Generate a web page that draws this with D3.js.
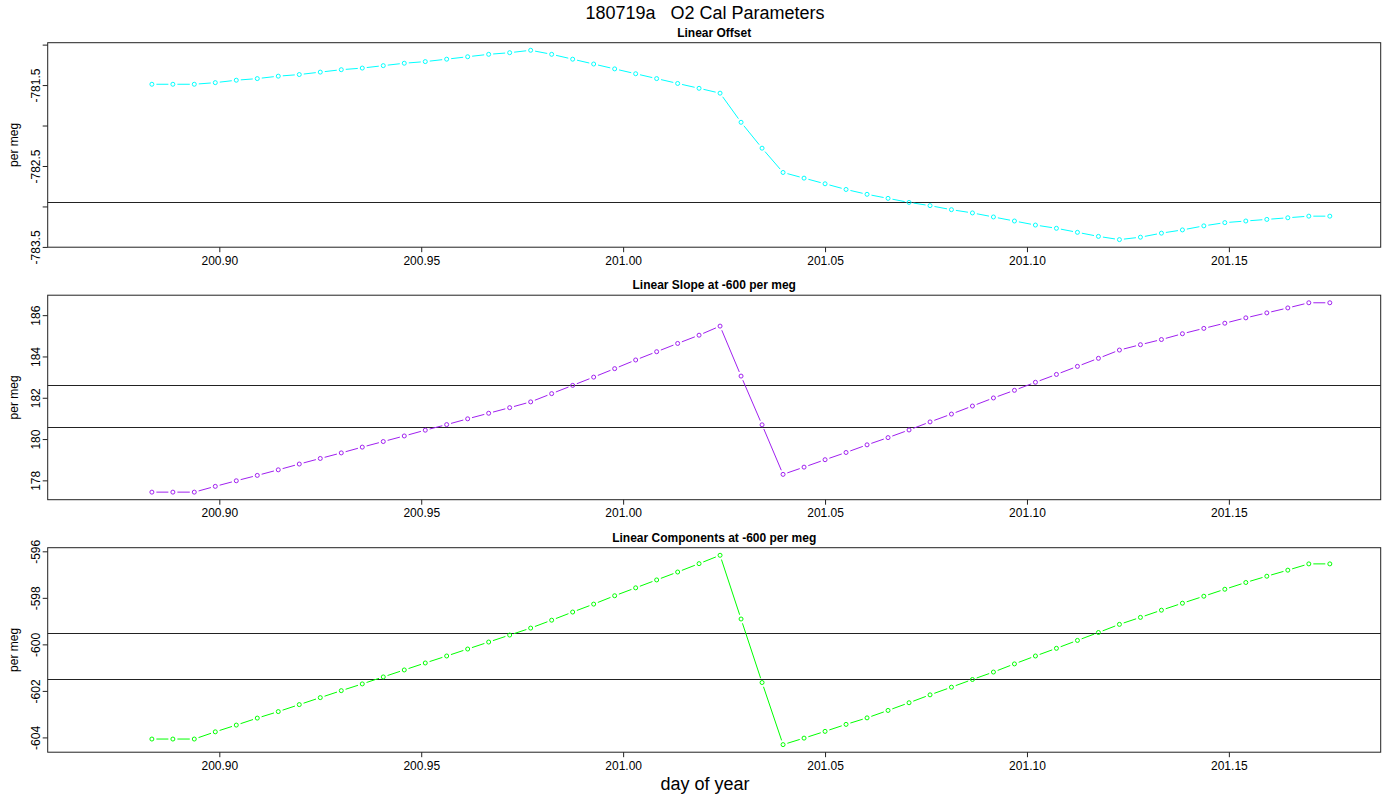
<!DOCTYPE html>
<html>
<head>
<meta charset="utf-8">
<script src="https://cdn.jsdelivr.net/npm/d3@7"></script>
<style>
  body { margin: 0; background: #fff; }
  svg { display: block; font-family: "Liberation Sans", Arial, Helvetica, sans-serif; }
</style>
</head>
<body>
<div id="chart"></div>
<script>
// sample times (day of year), every 7.5 minutes
const dayOfYear = [
  200.8833, 200.8885, 200.8938, 200.8990, 200.9042, 200.9094, 200.9146, 200.9198,
  200.9250, 200.9302, 200.9354, 200.9406, 200.9458, 200.9510, 200.9563, 200.9615,
  200.9667, 200.9719, 200.9771, 200.9823, 200.9875, 200.9927, 200.9979, 201.0031,
  201.0083, 201.0135, 201.0188, 201.0240, 201.0292, 201.0344, 201.0396, 201.0448,
  201.0500, 201.0552, 201.0604, 201.0656, 201.0708, 201.0760, 201.0813, 201.0865,
  201.0917, 201.0969, 201.1021, 201.1073, 201.1125, 201.1177, 201.1229, 201.1281,
  201.1333, 201.1385, 201.1438, 201.1490, 201.1542, 201.1594, 201.1646, 201.1698,
  201.1750
];

const linearOffset = [
  -781.49, -781.49, -781.49, -781.47, -781.44, -781.42, -781.39, -781.37,
  -781.34, -781.31, -781.29, -781.26, -781.23, -781.21, -781.18, -781.15,
  -781.12, -781.10, -781.07, -781.12, -781.18, -781.24, -781.30, -781.36,
  -781.42, -781.48, -781.54, -781.60, -781.96, -782.28, -782.58, -782.65,
  -782.72, -782.79, -782.85, -782.90, -782.95, -782.99, -783.04, -783.08,
  -783.13, -783.18, -783.23, -783.27, -783.32, -783.37, -783.41, -783.38,
  -783.33, -783.29, -783.24, -783.20, -783.18, -783.16, -783.14, -783.12,
  -783.12
];

const linearSlope = [
  177.43, 177.43, 177.43, 177.71, 177.98, 178.24, 178.51, 178.79,
  179.06, 179.33, 179.61, 179.88, 180.15, 180.43, 180.70, 180.98,
  181.25, 181.52, 181.80, 182.20, 182.60, 183.00, 183.41, 183.83,
  184.23, 184.63, 185.03, 185.47, 183.05, 180.69, 178.29, 178.64,
  179.00, 179.35, 179.72, 180.07, 180.44, 180.83, 181.21, 181.60,
  181.99, 182.36, 182.75, 183.13, 183.52, 183.91, 184.31, 184.57,
  184.82, 185.10, 185.36, 185.61, 185.87, 186.11, 186.35, 186.60,
  186.60
];

const linearComponents = [
  -604.07, -604.07, -604.07, -603.76, -603.47, -603.17, -602.89, -602.59,
  -602.29, -601.99, -601.70, -601.40, -601.10, -600.80, -600.50, -600.20,
  -599.90, -599.60, -599.30, -598.96, -598.61, -598.27, -597.91, -597.57,
  -597.23, -596.89, -596.53, -596.17, -598.91, -601.64, -604.31, -604.03,
  -603.74, -603.44, -603.16, -602.84, -602.51, -602.17, -601.84, -601.51,
  -601.19, -600.84, -600.50, -600.17, -599.83, -599.49, -599.14, -598.84,
  -598.53, -598.23, -597.93, -597.63, -597.34, -597.07, -596.81, -596.54,
  -596.54
];

// reference lines
const offsetRefs = [-782.95];
const slopeRefs = [182.6, 180.6];
const componentRefs = [-599.5, -601.5];

// axis ticks
const xTicks = [200.90, 200.95, 201.00, 201.05, 201.10, 201.15];
const xDomain = [200.8575, 201.1876];
const offsetTicks = [-781, -781.5, -782, -782.5, -783, -783.5];
const offsetTickLabels = ["", "-781.5", "", "-782.5", "", "-783.5"];
const slopeTicks = [178, 180, 182, 184, 186];
const componentTicks = [-604, -602, -600, -598, -596];

const panelTitles = ["Linear Offset", "Linear Slope at -600 per meg", "Linear Components at -600 per meg"];
const mainTitle = "180719a   O2 Cal Parameters";

const W = 1400, H = 800;
const left = 47.7, right = 1380.7;
const panelTop0 = 42.7, panelStep = 252.5, panelH = 204.5;

const panels = [
  { title: panelTitles[0], values: linearOffset, color: "#00FFFF", refs: offsetRefs,
    ticks: offsetTicks, labels: offsetTickLabels },
  { title: panelTitles[1], values: linearSlope, color: "#A020F0", refs: slopeRefs,
    ticks: slopeTicks, labels: slopeTicks.map(String) },
  { title: panelTitles[2], values: linearComponents, color: "#00FF00", refs: componentRefs,
    ticks: componentTicks, labels: componentTicks.map(String) }
];

const svg = d3.select("#chart").append("svg")
  .attr("width", W)
  .attr("height", H);

svg.append("text")
  .attr("x", 705).attr("y", 19)
  .attr("text-anchor", "middle")
  .attr("font-size", 18)
  .attr("fill", "#000")
  .style("white-space", "pre")
  .text(mainTitle);

const x = d3.scaleLinear().domain(xDomain).range([left, right]);

panels.forEach((p, k) => {
  const top = panelTop0 + k * panelStep;
  const bottom = top + panelH;

  // R style 4% range extension
  const [lo, hi] = d3.extent(p.values);
  const pad = (hi - lo) * 0.04;
  const y = d3.scaleLinear().domain([lo - pad, hi + pad]).range([bottom, top]);

  const g = svg.append("g");

  g.append("text")
    .attr("x", (left + right) / 2).attr("y", top - 6)
    .attr("text-anchor", "middle")
    .attr("font-size", 12)
    .attr("font-weight", "bold")
    .text(p.title);

  // reference lines
  g.selectAll(".ref")
    .data(p.refs)
    .join("line")
    .attr("x1", left).attr("x2", right)
    .attr("y1", d => Math.round(y(d)) + 0.5)
    .attr("y2", d => Math.round(y(d)) + 0.5)
    .attr("stroke", "#222")
    .attr("stroke-width", 1);

  // x axis
  const xAxis = g.append("g")
    .attr("transform", `translate(0,${bottom})`)
    .call(d3.axisBottom(x).tickValues(xTicks).tickFormat(d3.format(".2f")).tickSizeOuter(0).tickSize(5).tickPadding(4));
  xAxis.select(".domain").remove();
  xAxis.selectAll("line").attr("stroke", "#222");
  xAxis.selectAll("text")
    .attr("font-size", 12)
    .attr("font-family", "Liberation Sans, Arial, sans-serif")
    .attr("fill", "#000");

  // y axis
  const yAxis = g.append("g")
    .attr("transform", `translate(${left},0)`)
    .call(d3.axisLeft(y).tickValues(p.ticks).tickFormat((d, i) => p.labels[i]).tickSizeOuter(0).tickSize(5));
  yAxis.select(".domain").remove();
  yAxis.selectAll("line").attr("stroke", "#222");
  yAxis.selectAll("text")
    .attr("font-size", 12)
    .attr("font-family", "Liberation Sans, Arial, sans-serif")
    .attr("fill", "#000")
    .attr("text-anchor", "middle")
    .attr("dy", 0)
    .attr("x", 0)
    .attr("transform", "translate(-8,0) rotate(-90)");

  g.append("text")
    .attr("transform", `translate(18,${(top + bottom) / 2}) rotate(-90)`)
    .attr("text-anchor", "middle")
    .attr("font-size", 12)
    .text("per meg");

  // box
  g.append("rect")
    .attr("x", left).attr("y", top)
    .attr("width", right - left).attr("height", panelH)
    .attr("fill", "none")
    .attr("stroke", "#222")
    .attr("stroke-width", 1);

  // points + gapped segments (type = "b")
  const pts = dayOfYear.map((t, i) => [x(t), y(p.values[i])]);
  const gap = 4.5;
  const segs = d3.pairs(pts).map(([a, b]) => {
    const dx = b[0] - a[0], dy = b[1] - a[1];
    const len = Math.hypot(dx, dy);
    if (len <= 2 * gap) return null;
    const ux = dx / len, uy = dy / len;
    return [a[0] + ux * gap, a[1] + uy * gap, b[0] - ux * gap, b[1] - uy * gap];
  }).filter(s => s);

  g.append("g").selectAll("line")
    .data(segs)
    .join("line")
    .attr("x1", d => d[0]).attr("y1", d => d[1])
    .attr("x2", d => d[2]).attr("y2", d => d[3])
    .attr("stroke", p.color)
    .attr("stroke-width", 1);

  g.append("g").selectAll("circle")
    .data(pts)
    .join("circle")
    .attr("cx", d => d[0]).attr("cy", d => d[1])
    .attr("r", 2)
    .attr("fill", "none")
    .attr("stroke", p.color)
    .attr("stroke-width", 1);
});

svg.append("text")
  .attr("x", 705).attr("y", 790)
  .attr("text-anchor", "middle")
  .attr("font-size", 18)
  .text("day of year");
</script>
</body>
</html>
